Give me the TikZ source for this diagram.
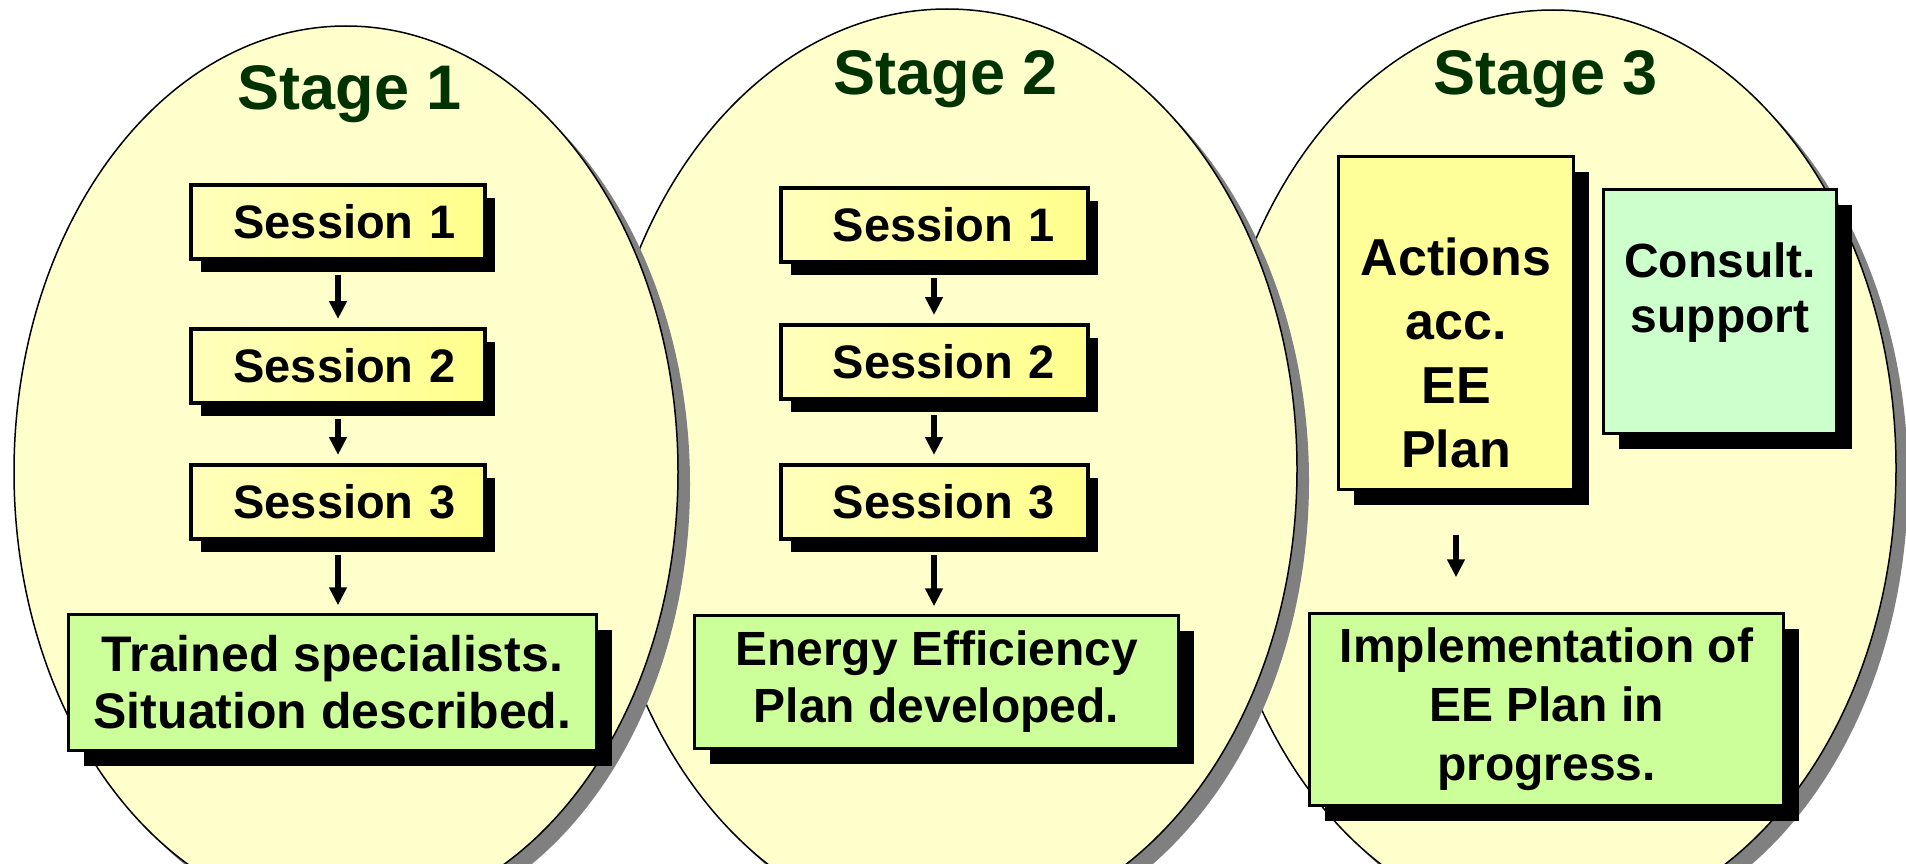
\documentclass[tikz,border=0pt]{standalone}
\usepackage{fontspec}
\setmainfont{Liberation Sans}
\usetikzlibrary{arrows.meta,shadows}

\definecolor{stagebg}{HTML}{FFFFCC}
\definecolor{stageshadow}{HTML}{808080}
\definecolor{titlecolor}{HTML}{003300}
\definecolor{sessionleft}{HTML}{FFFFBC}
\definecolor{sessionright}{HTML}{FFFF8C}
\definecolor{resultbg}{HTML}{CCFF99}
\definecolor{actionbg}{HTML}{FFFF99}
\definecolor{consultbg}{HTML}{CCFFCC}

\tikzset{
  stage/.style={fill=stagebg, draw=black, line width=1.5pt,
    drop shadow={shadow xshift=12pt, shadow yshift=-12pt, fill=stageshadow, opacity=1}},
  stagetitle/.style={anchor=base, text=titlecolor,
    font=\bfseries\fontsize{63}{70}\selectfont},
  session/.style={draw=black, line width=4pt, left color=sessionleft, right color=sessionright,
    minimum height=74pt, inner sep=0pt, align=right, font=\bfseries\fontsize{47}{57}\selectfont,
    drop shadow={shadow xshift=10pt, shadow yshift=-13pt, fill=black, opacity=1}},
  result/.style={draw=black, line width=2.5pt, fill=resultbg, align=center, inner sep=0pt,
    drop shadow={shadow xshift=15pt, shadow yshift=-15pt, fill=black, opacity=1}},
  plainbox/.style={draw=black, line width=2.5pt, inner sep=0pt,
    drop shadow={shadow xshift=15pt, shadow yshift=-15pt, fill=black, opacity=1}},
  boxtext/.style={align=center, inner sep=0pt},
  flow/.style={line width=5.5pt, -{Triangle[length=18pt,width=17pt]},
    shorten <=14pt, shorten >=8pt}
}

\begin{document}
\begin{tikzpicture}[x=1pt, y=-1pt]
  \useasboundingbox[fill=white] (0,0) rectangle (1906,864);

  % === STAGE BACKGROUNDS (right one first) ===
  \path[stage] (1553,468) ellipse [x radius=343, y radius=458];
  \path[stage] (947,469) ellipse [x radius=350, y radius=460];
  \path[stage] (346,472) ellipse [x radius=332, y radius=446];

  \node[stagetitle] (title1) at (350,110) {Stage 1};
  \node[stagetitle] (title2) at (946,95) {Stage 2};
  \node[stagetitle] (title3) at (1546,95) {Stage 3};

  % === STAGE 1 ===
  \node[session, minimum width=294pt, text width=235pt] (s1a) at (338,221.5) {Session 1};
  \node[session, minimum width=294pt, text width=235pt] (s1b) at (338,366) {Session 2};
  \node[session, minimum width=294pt, text width=235pt] (s1c) at (338,502) {Session 3};
  \node[result, minimum width=528pt, minimum height=136pt,
    font=\bfseries\fontsize{50}{57}\selectfont] (res1) at (332.5,682.5)
    {Trained specialists.\\Situation described.};

  \draw[flow] (s1a) -- (s1b);
  \draw[flow] (s1b) -- (s1c);
  \draw[flow] (s1c.south) -- (s1c.south |- res1.north);

  % === STAGE 2 ===
  \node[session, minimum width=307pt, text width=242pt] (s2a) at (934,225) {Session 1};
  \node[session, minimum width=307pt, text width=242pt] (s2b) at (934,362) {Session 2};
  \node[session, minimum width=307pt, text width=242pt] (s2c) at (934,502) {Session 3};
  \node[result, minimum width=484pt, minimum height=133pt,
    font=\bfseries\fontsize{48}{57}\selectfont] (res2) at (936.5,682)
    {Energy Efficiency\\Plan developed.};

  \draw[flow] (s2a) -- (s2b);
  \draw[flow] (s2b) -- (s2c);
  \draw[flow] (s2c.south) -- (s2c.south |- res2.north);

  % === STAGE 3 ===
  \node[plainbox, fill=actionbg, minimum width=235pt, minimum height=333pt] (actions) at (1456,323) {};
  \node[boxtext, font=\bfseries\fontsize{52}{64}\selectfont] (actionstext) at (1456,353)
    {Actions\\acc.\\EE\\Plan};

  \node[plainbox, fill=consultbg, minimum width=233pt, minimum height=244pt] (consult) at (1720,311.5) {};
  \node[boxtext, font=\bfseries\fontsize{48}{55}\selectfont] (consulttext) at (1720,293)
    {Consult.\\support};

  \node[result, minimum width=474pt, minimum height=192pt,
    font=\bfseries\fontsize{48}{59}\selectfont] (res3) at (1546.5,709.5)
    {Implementation of\\EE Plan in\\progress.};

  \draw[flow, shorten <=44pt, shorten >=35pt] (actions.south) -- (actions.south |- res3.north);
\end{tikzpicture}
\end{document}
